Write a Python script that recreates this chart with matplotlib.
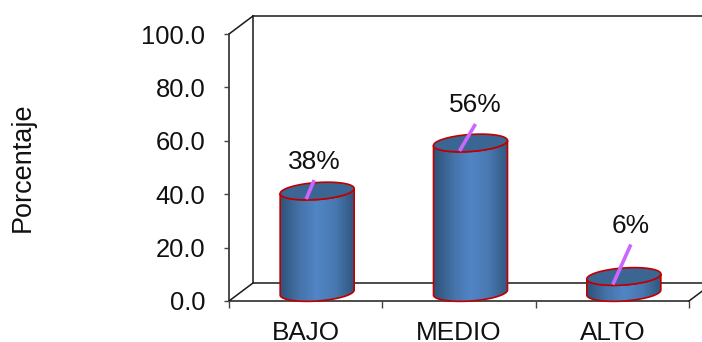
import matplotlib
matplotlib.use("Agg")
import matplotlib.pyplot as plt
from matplotlib.colors import LinearSegmentedColormap
from matplotlib.patches import Polygon
import numpy as np

plt.rcParams['font.family'] = ['Liberation Sans', 'DejaVu Sans']

# data
categories = ['BAJO', 'MEDIO', 'ALTO']
values = [38, 56, 6]
value_labels = ['38%', '56%', '6%']
yticks = [0, 20, 40, 60, 80, 100]

W, H = 702, 342
LEFT, RIGHT, BASE, TOP = 229, 689, 301, 34

fig = plt.figure(figsize=(W / 100, H / 100), dpi=100)
ax = fig.add_axes([LEFT / W, (H - BASE) / H, (RIGHT - LEFT) / W, (BASE - TOP) / H])
ax.set_xlim(0, 3)
ax.set_ylim(0, 100)

# size of one pixel in data units
ux = 3 / (RIGHT - LEFT)
uy = 100 / (BASE - TOP)

# 3d box behind the plot
dx, dy = 24 * ux, 18 * uy
frame = dict(color='#1a1a1a', lw=1.1, clip_on=False, zorder=1)
ax.plot([dx, dx, 3 + dx, 3 + dx], [100 + dy, dy, dy, dy], **frame)
ax.plot([dx, 3 + dx], [100 + dy, 100 + dy], **frame)
ax.plot([0, dx], [100, 100 + dy], **frame)
ax.plot([0, dx], [0, dy], **frame)
ax.plot([3, 3 + dx], [0, dy], **frame)

for s in ['top', 'right']:
    ax.spines[s].set_visible(False)
for s in ['left', 'bottom']:
    ax.spines[s].set_color('#1a1a1a')
    ax.spines[s].set_linewidth(1.1)
    ax.spines[s].set_zorder(1.5)

ax.set_yticks(yticks)
ax.set_yticklabels(['%.1f' % v for v in yticks], fontsize=18.4, color='#111111')
ax.tick_params(axis='y', length=3.6, width=1, color='#444444', pad=13.5)
ax.set_xticks([0, 1, 2, 3])
ax.set_xticklabels([])
ax.tick_params(axis='x', length=5, width=1, color='#444444')

fig.text(23 / W, 1 - 167 / H, 'Porcentaje', rotation=90, fontsize=19.5,
         ha='center', va='center', color='#111111')

# cylinders
shade = LinearSegmentedColormap.from_list('cyl', [
    (0.0, '#2f5379'), (0.28, '#4674ab'), (0.5, '#5085c6'),
    (0.75, '#4878b0'), (1.0, '#31567f')])
grad = np.linspace(0, 1, 256).reshape(1, -1)

radius = 37 * ux
minor = 8.5 * uy
tilt = 2.5 * uy
base_y = 8.5 * uy
centers = [i + 0.575 for i in range(len(categories))]

# leader line tips and label heights, in pixels from the cap centre
leader_top = [(-3, 11), (5, 19), (7, 32)]
label_gap = [29.5, 38, 50]

t_low = np.linspace(np.pi, 2 * np.pi, 60)
t_full = np.linspace(0, 2 * np.pi, 120)
red = '#c00000'

def arc(cx, cy, t):
    x = cx + radius * np.cos(t)
    y = cy + tilt * np.cos(t) + minor * np.sin(t)
    return x, y

for i, v in enumerate(values):
    cx = centers[i]
    top_y = base_y + v
    xt, yt = arc(cx, top_y, t_low)
    xb, yb = arc(cx, base_y, t_low)

    # body: lower arc of the base, then back along the lower arc of the top
    body = np.column_stack([np.r_[xb, xt[::-1]], np.r_[yb, yt[::-1]]])
    patch = Polygon(body, closed=True, fc='none', ec='none', transform=ax.transData)
    ax.add_patch(patch)
    im = ax.imshow(grad, extent=[cx - radius, cx + radius, 0, top_y + 5], aspect='auto',
                   cmap=shade, zorder=3, clip_on=True)
    im.set_clip_path(patch)
    ax.add_patch(Polygon(body, closed=True, fc='none', ec=red, lw=1.2, zorder=4,
                         clip_on=False))

    # cap
    xc, yc = arc(cx, top_y, t_full)
    ax.fill(xc, yc, fc='#3b6592', ec=red, lw=1.2, zorder=5, clip_on=False)

    # leader line and value label
    x0 = cx - 11 * ux
    y0 = top_y - 8 * uy
    x1 = cx + leader_top[i][0] * ux
    y1 = top_y + leader_top[i][1] * uy
    ax.plot([x0, x1], [y0, y1], color='#cc66ff', lw=2.6, zorder=6, clip_on=False,
            solid_capstyle='butt')
    ax.text(x1, top_y + label_gap[i] * uy, value_labels[i], fontsize=19,
            ha='center', va='center', color='#111111', zorder=7)

    ax.text(i + 0.5, -39.5 * uy, categories[i], fontsize=18.8, ha='center', va='baseline',
            color='#111111', clip_on=False)

ax.set_xlim(0, 3)
ax.set_ylim(0, 100)
ax.patch.set_alpha(0)
fig.savefig('out.png', dpi=100)
